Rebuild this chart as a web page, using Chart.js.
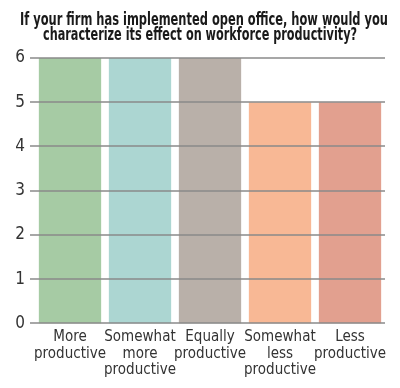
<!DOCTYPE html>
<html>
<head>
<meta charset="utf-8">
<script src="https://cdn.jsdelivr.net/npm/chart.js@4/dist/chart.umd.min.js"></script>
<style>
  html, body { margin: 0; padding: 0; background: #fff; }
  #wrap { width: 400px; height: 388px; }
</style>
</head>
<body>
<div id="wrap"><canvas id="c" width="400" height="388"></canvas></div>
<script>
const titleLines = [
  "If your firm has implemented open office, how would you",
  "characterize its effect on workforce productivity?"
];
const categories = [
  ["More", "productive"],
  ["Somewhat", "more", "productive"],
  ["Equally", "productive"],
  ["Somewhat", "less", "productive"],
  ["Less", "productive"]
];
const values = [6, 6, 6, 5, 5];
const barColors = ["#a6cba4", "#acd6d2", "#b9b0a9", "#f8b895", "#e2a08f"];
const yTicks = [0, 1, 2, 3, 4, 5, 6];

const FONT = "'DejaVu Sans Condensed', 'Liberation Sans Narrow', sans-serif";

// Two-line condensed title, drawn as canvas text
const condensedTitle = {
  id: 'condensedTitle',
  afterDraw(chart) {
    const ctx = chart.ctx;
    ctx.save();
    ctx.fillStyle = '#1a1a1a';
    ctx.font = "bold 17px " + FONT;
    ctx.textAlign = 'center';
    ctx.textBaseline = 'alphabetic';
    ctx.fillText(titleLines[0], 204, 25, 368);
    ctx.fillText(titleLines[1], 200, 40, 314);
    ctx.restore();
  }
};

const gridOnTop = {
  id: 'gridOnTop',
  afterDatasetsDraw(chart) {
    const y = chart.scales.y;
    const ctx = chart.ctx;
    const area = chart.chartArea;
    ctx.save();
    ctx.strokeStyle = '#8a8a8a';
    ctx.lineWidth = 1.5;
    y.ticks.forEach((t) => {
      const py = Math.round(y.getPixelForValue(t.value));
      ctx.beginPath();
      ctx.moveTo(area.left - 5, py);
      ctx.lineTo(area.right, py);
      ctx.stroke();
    });
    ctx.restore();
  }
};

new Chart(document.getElementById('c'), {
  type: 'bar',
  data: {
    labels: categories,
    datasets: [{
      data: values,
      backgroundColor: barColors,
      borderWidth: 0,
      categoryPercentage: 1.0,
      barPercentage: 0.89
    }]
  },
  options: {
    responsive: false,
    animation: false,
    layout: { padding: { left: 15, right: 15, top: 58, bottom: 4 } },
    plugins: {
      legend: { display: false },
      tooltip: { enabled: false },
      title: { display: false }
    },
    scales: {
      x: {
        grid: { display: false, drawTicks: false },
        border: { display: false },
        ticks: {
          color: '#333',
          font: { family: FONT, size: 15, lineHeight: 1.08 },
          maxRotation: 0,
          minRotation: 0,
          autoSkip: false,
          padding: 6
        }
      },
      y: {
        min: 0,
        max: 6,
        afterBuildTicks(scale) { scale.ticks = yTicks.map(v => ({ value: v })); },
        afterFit(scale) { scale.width = 20; },
        grid: { display: false, drawTicks: false },
        border: { display: false },
        ticks: {
          color: '#333',
          font: { family: FONT, size: 17 },
          padding: 10
        }
      }
    }
  },
  plugins: [gridOnTop, condensedTitle]
});
</script>
</body>
</html>
